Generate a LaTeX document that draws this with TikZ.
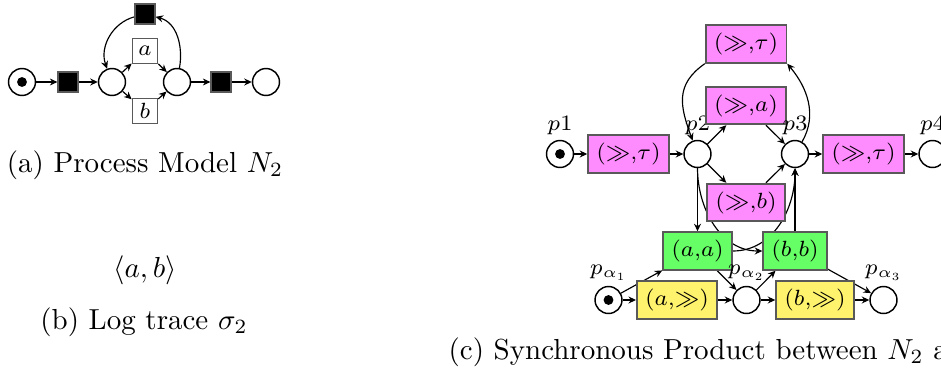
\RequirePackage{fix-cm}
\documentclass[tikz,border=0pt]{standalone}
\usetikzlibrary{arrows.meta, positioning, backgrounds}

\definecolor{movepink}{RGB}{255,140,255}
\definecolor{syncgreen}{RGB}{102,255,102}
\definecolor{logyellow}{RGB}{255,243,110}

\begin{document}
\begin{tikzpicture}[
    x=0.345pt, y=-0.345pt,
    netfont/.style={font=\fontsize{7.6}{9}\selectfont},
    place/.style={draw, circle, fill=white, line width=0.5pt, minimum size=9.3pt, inner sep=0pt},
    silent/.style={draw=black!65, fill=black, line width=0.6pt, minimum size=6.7pt, inner sep=0pt},
    activity/.style={draw=black!65, fill=white, line width=0.6pt, minimum size=8.6pt, inner sep=0pt, netfont},
    trans/.style={draw=black!65, line width=0.6pt, minimum height=13pt, inner xsep=2.9pt, inner ysep=0pt, netfont},
    model/.style={trans, fill=movepink},
    sync/.style={trans, fill=syncgreen},
    logmove/.style={trans, fill=logyellow},
    line/.style={draw, -{Stealth[length=2.6pt,width=2.4pt]}, line width=0.4pt},
    every label/.style={inner sep=1.5pt, netfont}
]
    \useasboundingbox (0,0) rectangle (941,372);
    \clip (0,0) rectangle (941,372);

    % (a) process model
    \node[place] (a-start) at (22,82) {};
    \fill (a-start) circle[radius=1.7pt];
    \node[silent] (a-t1) at (68,82) {};
    \node[place] (a-p2) at (112,82) {};
    \node[activity] (a-ta) at (145,51) {$a$};
    \node[activity] (a-tb) at (145,111) {$b$};
    \node[silent] (a-tau) at (145,14) {};
    \node[place] (a-p3) at (177,82) {};
    \node[silent] (a-t2) at (221,82) {};
    \node[place] (a-end) at (266,82) {};
    \node (cap-a) at (145,165) {(a) Process Model $N_2$};

    % (b) log trace
    \node (trace) at (145,270) {$\langle a, b\rangle$};
    \node (cap-b) at (144,322) {(b) Log trace $\sigma_2$};

    % (c) synchronous product - model part
    \node[place, label=above:$p1$] (c-p1) at (560,154) {};
    \fill (c-p1) circle[radius=1.7pt];
    \node[model] (c-t1) at (628.5,154) {($\gg$,$\tau$)};
    \node[place, label=above:$p2$] (c-p2) at (697.5,154) {};
    \node[model] (c-tt) at (746,44) {($\gg$,$\tau$)};
    \node[model] (c-ta) at (746,105.5) {($\gg$,$a$)};
    \node[model] (c-tb) at (746,202.5) {($\gg$,$b$)};
    \node[place, label=above:$p3$] (c-p3) at (795,154) {};
    \node[model] (c-t4) at (863.5,154) {($\gg$,$\tau$)};
    \node[place, label=above:$p4$] (c-p4) at (932.5,154) {};

    % synchronous moves
    \node[sync] (c-aa) at (697.5,251) {($a$,$a$)};
    \node[sync] (c-bb) at (795,251) {($b$,$b$)};

    % log part
    \node[place, label=above:$p_{\alpha_1}$] (c-q1) at (608.5,300) {};
    \fill (c-q1) circle[radius=1.7pt];
    \node[logmove] (c-la) at (677,300) {($a$,$\gg$)};
    \node[place, label=above:$p_{\alpha_2}$] (c-q2) at (746.5,300) {};
    \node[logmove] (c-lb) at (815,300) {($b$,$\gg$)};
    \node[place, label=above:$p_{\alpha_3}$] (c-q3) at (883.5,300) {};
    \node[anchor=west] (cap-c) at (438.4,352) {(c) Synchronous Product between $N_2$ and $\sigma_2$};

    \begin{scope}[on background layer]
        % arcs of (a)
        \draw[line] (a-start) -- (a-t1);
        \draw[line] (a-t1) -- (a-p2);
        \draw[line] (a-p2) -- (a-ta);
        \draw[line] (a-p2) -- (a-tb);
        \draw[line] (a-ta) -- (a-p3);
        \draw[line] (a-tb) -- (a-p3);
        \draw[line] (a-p3) to[out=80,in=-15] (a-tau);
        \draw[line] (a-tau) to[out=195,in=110] (a-p2);
        \draw[line] (a-p3) -- (a-t2);
        \draw[line] (a-t2) -- (a-end);

        % arcs of (c)
        \draw[line] (c-p1) -- (c-t1);
        \draw[line] (c-t1) -- (c-p2);
        \draw[line] (c-p2) -- (c-ta);
        \draw[line] (c-p2) -- (c-tb);
        \draw[line] (c-ta) -- (c-p3);
        \draw[line] (c-tb) -- (c-p3);
        \draw[line] (c-p3) to[out=60,in=-50] (c-tt.south east);
        \draw[line] (c-tt.south west) to[out=215,in=110,looseness=1.2] (c-p2);
        \draw[line] (c-p3) -- (c-t4);
        \draw[line] (c-t4) -- (c-p4);
        \draw[line] (c-p2) -- (c-aa);
        \draw[line] (c-p2) to[out=-90,in=180] (c-bb);
        \draw[line] (c-aa) to[out=0,in=-90] (c-p3);
        \draw[line] (c-bb) -- (c-p3);
        \draw[line] (c-q1) -- (c-aa);
        \draw[line] (c-aa) -- (c-q2);
        \draw[line] (c-q2) -- (c-bb);
        \draw[line] (c-bb) -- (c-q3);
        \draw[line] (c-q1) -- (c-la);
        \draw[line] (c-la) -- (c-q2);
        \draw[line] (c-q2) -- (c-lb);
        \draw[line] (c-lb) -- (c-q3);
    \end{scope}
\end{tikzpicture}
\end{document}
